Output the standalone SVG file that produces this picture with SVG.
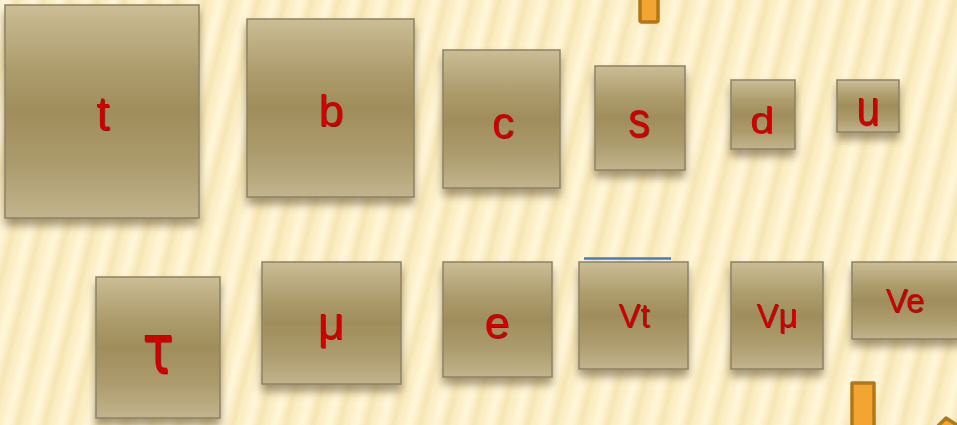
<svg xmlns="http://www.w3.org/2000/svg" width="957" height="425" viewBox="0 0 957 425">
<defs>
<linearGradient id="boxg" x1="0" y1="0" x2="0" y2="1">
<stop offset="0" stop-color="#cbbd95"/>
<stop offset="0.3" stop-color="#ad9c6c"/>
<stop offset="0.5" stop-color="#a08d5c"/>
<stop offset="0.75" stop-color="#ac9b6c"/>
<stop offset="1" stop-color="#c2b48d"/>
</linearGradient>
<pattern id="stripes" width="26" height="40" patternUnits="userSpaceOnUse" patternTransform="rotate(14)">
<rect width="26" height="40" fill="#fcefc6"/>
<rect x="2" width="7" height="40" fill="#fff7da"/>
<rect x="14" width="5" height="40" fill="#f4e3b0"/>
</pattern>
<filter id="blur" x="-5%" y="-5%" width="110%" height="110%"><feGaussianBlur stdDeviation="2"/></filter>
<filter id="sh" x="-20%" y="-20%" width="140%" height="150%">
<feDropShadow dx="0" dy="7" stdDeviation="4" flood-color="#5e4e28" flood-opacity="0.55"/>
</filter>
<filter id="tsh" x="-20%" y="-20%" width="140%" height="140%">
<feDropShadow dx="0.8" dy="1" stdDeviation="0.5" flood-color="#600000" flood-opacity="0.8"/>
</filter>
</defs>
<style>
.box{fill:url(#boxg);stroke:#8c8264;stroke-width:1.5;filter:url(#sh)}
.lbl{font-family:"Liberation Sans",Arial,sans-serif;fill:#d00000;text-anchor:middle;filter:url(#tsh)}
.arr{fill:#f2a531;stroke:#b47716;stroke-width:3.5;stroke-linejoin:round}
</style>
<rect width="957" height="425" fill="#fcefc6"/>
<rect x="-60" y="-60" width="1080" height="560" fill="url(#stripes)" filter="url(#blur)"/>
<g id="connectors">
<rect class="arr" x="640" y="-6" width="18" height="28" rx="2"/>
<path class="arr" d="M852 383 H874 V430 H852 Z"/>
<path class="arr" d="M937 427 L946 418 L960 427 Z"/>
<line x1="584" y1="258.5" x2="671" y2="258.5" stroke="#4a78c8" stroke-width="2.5"/>
</g>
<g id="node-t"><rect class="box" x="5" y="5" width="194" height="213"/><text class="lbl" x="103" y="130" font-size="48">t</text></g>
<g id="node-b"><rect class="box" x="247" y="19" width="167" height="178"/><text class="lbl" x="331" y="126" font-size="45">b</text></g>
<g id="node-c"><rect class="box" x="443" y="50" width="117" height="138"/><text class="lbl" x="503" y="138" font-size="44">c</text></g>
<g id="node-s"><rect class="box" x="595" y="66" width="90" height="104"/><text class="lbl" transform="translate(639 137) scale(1 1.15)" font-size="44">s</text></g>
<g id="node-d"><rect class="box" x="731" y="80" width="64" height="69"/><text class="lbl" transform="translate(762 133) scale(1 0.85)" font-size="43">d</text></g>
<g id="node-u"><rect class="box" x="837" y="80" width="62" height="52"/><text class="lbl" transform="translate(868 125) scale(1 1.2)" font-size="42">u</text></g>
<g id="node-tau"><rect class="box" x="96" y="277" width="124" height="141"/><text class="lbl" transform="translate(158 373) scale(1 1.35)" font-size="52" style="font-family:'DejaVu Sans',sans-serif">τ</text></g>
<g id="node-mu"><rect class="box" x="262" y="262" width="139" height="122"/><text class="lbl" x="331" y="339" font-size="46">μ</text></g>
<g id="node-e"><rect class="box" x="443" y="262" width="109" height="115"/><text class="lbl" x="497" y="338" font-size="45">e</text></g>
<g id="node-vt"><rect class="box" x="579" y="262" width="109" height="107"/><text class="lbl" x="634" y="327" font-size="33">Vt</text></g>
<g id="node-vmu"><rect class="box" x="731" y="262" width="92" height="107"/><text class="lbl" x="777" y="327" font-size="33">Vμ</text></g>
<g id="node-ve"><rect class="box" x="852" y="262" width="110" height="77"/><text class="lbl" x="905" y="312" font-size="33">Ve</text></g>
</svg>
